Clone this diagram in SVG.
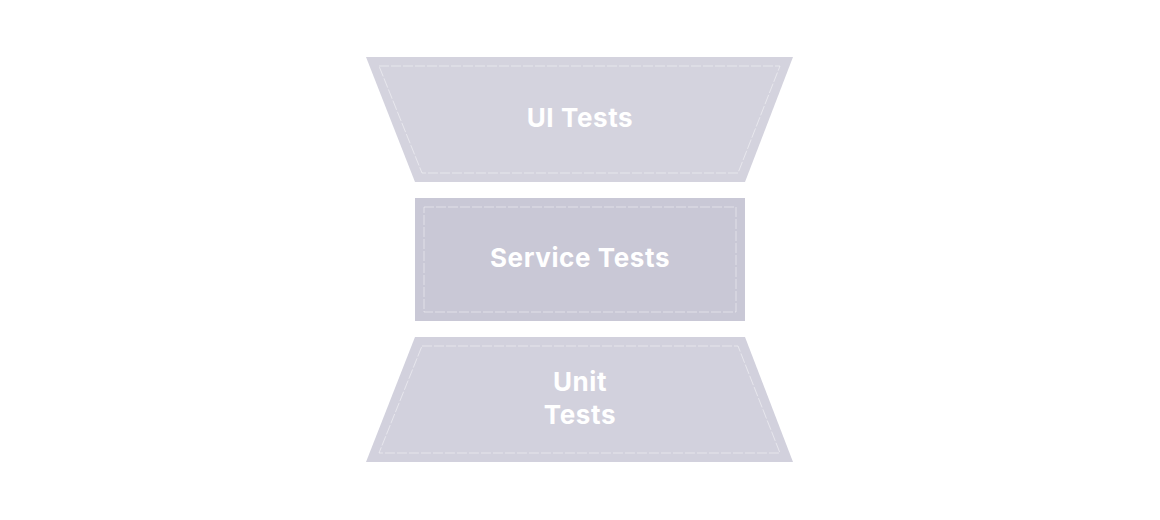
<svg xmlns="http://www.w3.org/2000/svg" width="1160" height="520" viewBox="0 0 1160 520">
<style>
.inner{fill:none;stroke:#ffffff;stroke-opacity:0.45;stroke-width:1;stroke-dasharray:10 2}
.lbl{font-family:Inter,"Noto Sans",sans-serif;font-weight:700;font-size:26px;letter-spacing:0.6px;fill:#ffffff;text-anchor:middle}
</style>
<rect width="1160" height="520" fill="#ffffff"/>
<g id="ui-tests">
<polygon points="366,57 793,57 745,182 415,182" fill="#d4d3de"/>
<polygon class="inner" points="379,66 780,66 738,173 422,173"/>
<text class="lbl" x="580" y="127">UI Tests</text>
</g>
<g id="service-tests">
<rect x="415" y="198" width="330" height="123" fill="#c9c8d6"/>
<rect class="inner" x="424" y="207" width="312" height="105"/>
<text class="lbl" x="580" y="267">Service Tests</text>
</g>
<g id="unit-tests">
<polygon points="415,337 745,337 793,462 366,462" fill="#d2d1dd"/>
<polygon class="inner" points="422,346 738,346 780,453 379,453"/>
<text class="lbl" x="580" y="391">Unit</text>
<text class="lbl" x="580" y="424">Tests</text>
</g>
<g id="connectors"/>
</svg>
